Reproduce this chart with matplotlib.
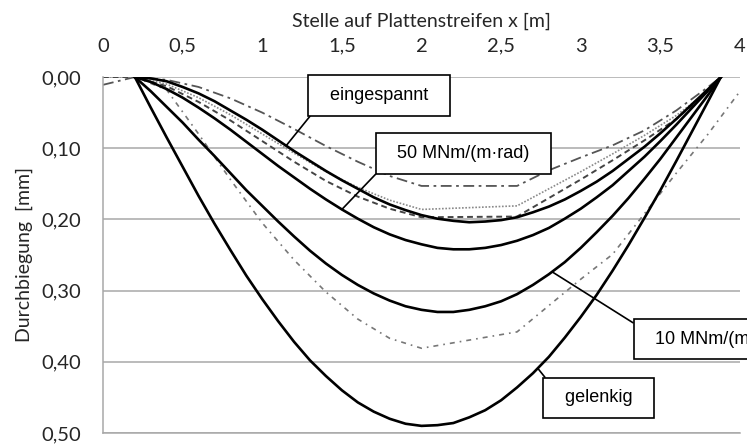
import matplotlib
matplotlib.use("Agg")
import matplotlib.pyplot as plt
import numpy as np

# Stelle x [m] for the analytical curves (support at 0.2 and 3.88)
x_ana = [0.2, 0.3, 0.4, 0.5, 0.6, 0.7, 0.8, 0.9, 1.0, 1.1, 1.2, 1.3, 1.4, 1.5,
         1.6, 1.7, 1.8, 1.9, 2.0, 2.1, 2.2, 2.3, 2.4, 2.5, 2.6, 2.7, 2.8, 2.9,
         3.0, 3.1, 3.2, 3.3, 3.4, 3.5, 3.6, 3.7, 3.8, 3.88]

gelenkig = [0, .043, .085, .126, .167, .206, .243, .279, .312, .343, .372, .398,
            .420, .440, .457, .470, .480, .487, .490, .489, .486, .478, .468, .454,
            .436, .416, .393, .366, .337, .306, .272, .236, .198, .159, .118, .076,
            .034, 0]
feder_10 = [0, .020, .042, .064, .088, .111, .135, .159, .181, .203, .224, .244,
            .262, .278, .292, .304, .314, .322, .327, .330, .330, .327, .322, .315,
            .305, .292, .277, .260, .240, .218, .195, .170, .143, .115, .085, .055,
            .025, 0]
feder_50 = [0, .007, .017, .029, .043, .058, .074, .091, .108, .125, .141, .157,
            .172, .186, .199, .211, .221, .229, .235, .240, .242, .242, .240, .236,
            .230, .222, .212, .199, .185, .169, .152, .132, .112, .090, .067, .043,
            .019, 0]
eingespannt = [0, .002, .006, .014, .023, .034, .047, .060, .074, .089, .104, .118,
               .132, .145, .157, .169, .179, .187, .194, .199, .202, .204, .203, .201,
               .197, .190, .182, .172, .160, .147, .132, .115, .098, .079, .059, .038,
               .017, 0]

# FE / measured style curves
x_fe = [0.0, 0.2, 0.4, 0.6, 0.8, 1.0, 1.2, 1.4, 1.6, 1.8, 2.0, 2.6, 2.8, 3.0,
        3.2, 3.4, 3.6, 3.8, 3.88]
strichpunkt = [.011, 0, .004, .014, .030, .050, .073, .097, .119, .139, .153, .153,
               .131, .113, .096, .075, .047, .014, 0]
punktiert = [0, 0, .010, .029, .053, .080, .107, .133, .155, .173, .186, .181,
             .157, .133, .108, .082, .054, .020, 0]
gestrichelt = [0, 0, .013, .035, .061, .090, .119, .146, .168, .185, .197, .196,
               .170, .144, .117, .089, .059, .020, 0]

x_grau = [0.2, 0.4, 0.6, 0.8, 1.0, 1.2, 1.4, 1.6, 1.8, 2.0, 2.6, 2.8, 3.0, 3.2,
          3.4, 3.6, 3.8, 4.0]
grau = [0, .018, .080, .144, .205, .257, .302, .340, .367, .381, .358, .321, .284,
        .249, .192, .135, .080, .020]

x_ticks = [0, 0.5, 1, 1.5, 2, 2.5, 3, 3.5, 4]
x_ticklabels = ["0", "0,5", "1", "1,5", "2", "2,5", "3", "3,5", "4"]
y_ticks = [0.0, 0.1, 0.2, 0.3, 0.4, 0.5]
y_ticklabels = ["0,00", "0,10", "0,20", "0,30", "0,40", "0,50"]

W, H = 747, 447
fig = plt.figure(figsize=(W / 100, H / 100), dpi=100)
ax = fig.add_axes([103 / W, 14 / H, 637 / W, 356 / H])

grid_col = "#a8a8a8"
txt_col = "#262626"
ax.set_xlim(0, 4)
ax.set_ylim(0.5, 0)
ax.set_yticks(y_ticks)
ax.yaxis.grid(True, color=grid_col, lw=1.1)
ax.set_axisbelow(True)

# dashed family
ax.plot(x_fe, strichpunkt, color="#555555", lw=1.3, dashes=[6, 2.5, 1.5, 2.5])
ax.plot(x_fe, punktiert, color="#8a8a8a", lw=1.2, dashes=[1, 1])
ax.plot(x_fe, gestrichelt, color="#444444", lw=1.4, dashes=[3, 2])
ax.plot(x_grau, grau, color="#777777", lw=1.2, dashes=[3, 3, 1, 3])

# analytical curves
for ys in (eingespannt, feder_50, feder_10, gelenkig):
    ax.plot(x_ana, ys, color="black", lw=1.9)

lab_font = "Lato"
ax.xaxis.tick_top()
ax.xaxis.set_label_position("top")
ax.set_xticks(x_ticks)
ax.set_xticklabels(x_ticklabels)
ax.set_yticklabels(y_ticklabels)
ax.tick_params(length=0, labelsize=14.5, labelcolor=txt_col)
ax.tick_params(axis="x", pad=16)
ax.tick_params(axis="y", pad=16)
for t in ax.get_xticklabels() + ax.get_yticklabels():
    t.set_fontfamily(lab_font)
ax.set_xlabel("Stelle auf Plattenstreifen x [m]", fontsize=14, family=lab_font,
              color=txt_col, labelpad=8)
ax.set_ylabel("Durchbiegung  [mm]", fontsize=14, family=lab_font,
              color=txt_col, labelpad=6)

for s in ("top", "right"):
    ax.spines[s].set_visible(False)
for s in ("left", "bottom"):
    ax.spines[s].set_color(grid_col)
    ax.spines[s].set_linewidth(1.1)

# labels with pointer lines
box = dict(boxstyle="square,pad=0.65", fc="white", ec="black", lw=1.2)
notes = [
    ("eingespannt", 1.15, eingespannt, (379, H - 95.5), (0, 0)),
    ("50 MNm/(m·rad)", 1.50, feder_50, (463.5, H - 153.5), (0, 0)),
    ("10 MNm/(m·rad)", 2.82, feder_10, (721.5, H - 339), (0, 1)),
    ("gelenkig", 2.73, gelenkig, (598.5, H - 398), (0, 1)),
]
for txt, xp, ys, pos, rp in notes:
    ax.annotate("  " + txt + "  ", xy=(xp, np.interp(xp, x_ana, ys)),
                xytext=pos, textcoords="figure pixels",
                ha="center", va="center", fontsize=13, family="Liberation Sans",
                bbox=box, annotation_clip=False,
                arrowprops=dict(arrowstyle="-", color="black", lw=1.2,
                                shrinkA=0, shrinkB=0, relpos=rp))

fig.savefig("out.png", dpi=100)
